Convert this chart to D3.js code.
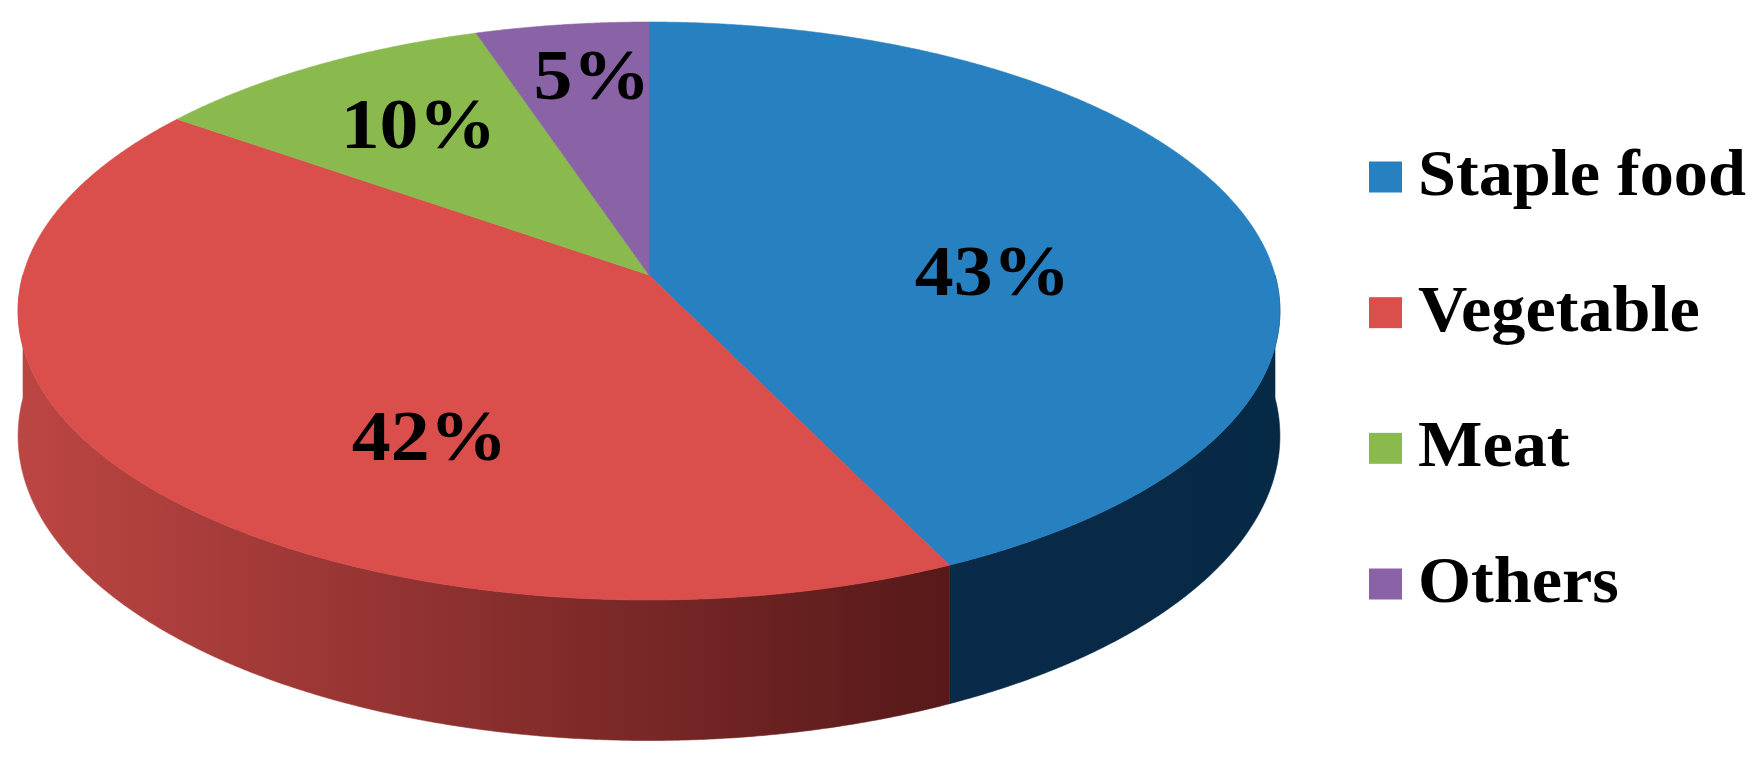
<!DOCTYPE html>
<html><head><meta charset="utf-8">
<script src="https://cdn.jsdelivr.net/npm/d3@7"></script>
<style>html,body{margin:0;padding:0;background:#fff;overflow:hidden}</style>
</head><body><svg id="chart" width="1760" height="761"></svg>
<script>
// ---- data ----
const categories = ["Staple food", "Vegetable", "Meat", "Others"];
const values = [43, 42, 10, 5];
const valueLabels = ["43%", "42%", "10%", "5%"];
const topColors = ["#2780c0", "#da4e4b", "#8aba4e", "#8963a6"];

// ---- layout (3D perspective pie) ----
const cx = 649, cy = 275;   // projected centre of the top face
const A = 284.5, B = 626;   // vertical / horizontal projection scales
const E = 0.1246;           // perspective strength
const H = 123;              // pie thickness
const labelRadius = [0.55, 0.62, 0.695, 0.777];
const labelTurnDeg = [11, -18.5, 1.4, 1.6];

function proj(theta, r, drop) {
  const u = r * Math.sin(theta), v = -r * Math.cos(theta);
  const z = 1 - v * E;
  return [cx + B * u / z, cy + (A * v + (drop || 0)) / z];
}

const svg = d3.select("#chart");
const defs = svg.append("defs");
const g1 = defs.append("linearGradient").attr("id", "redSide")
  .attr("gradientUnits", "userSpaceOnUse").attr("x1", 13).attr("x2", 945).attr("y1", 0).attr("y2", 0);
g1.append("stop").attr("offset", 0).attr("stop-color", "#bd4643");
g1.append("stop").attr("offset", 1).attr("stop-color", "#571919");
const g2 = defs.append("linearGradient").attr("id", "blueSide")
  .attr("gradientUnits", "userSpaceOnUse").attr("x1", 945).attr("x2", 1283).attr("y1", 0).attr("y2", 0);
g2.append("stop").attr("offset", 0).attr("stop-color", "#092b49");
g2.append("stop").attr("offset", 1).attr("stop-color", "#062946");
const sideFills = ["url(#blueSide)", "url(#redSide)", d3.color(topColors[2]).darker(1.5), d3.color(topColors[3]).darker(1.5)];

const pie = d3.pie().sort(null).value(d => d).startAngle(0).endAngle(2 * Math.PI);
const arcs = pie(values);

function arcPoints(a0, a1, r, drop) {
  const n = Math.max(2, Math.ceil((a1 - a0) / 0.005));
  const pts = [];
  for (let i = 0; i <= n; i++) pts.push(proj(a0 + (a1 - a0) * i / n, r, drop));
  return pts;
}
const line = d3.line();

// walls (front half only)
const gWall = svg.append("g");
arcs.forEach((a, i) => {
  const s = Math.max(a.startAngle, Math.PI / 2), e = Math.min(a.endAngle, 3 * Math.PI / 2);
  if (e <= s) return;
  const top = arcPoints(s, e, 1, 0);
  const bot = arcPoints(s, e, 1, H).reverse();
  gWall.append("path").attr("d", line(top.concat(bot)) + "Z")
    .attr("fill", sideFills[i]).attr("stroke", sideFills[i]).attr("stroke-width", 0.6);
});

// top faces
const gTop = svg.append("g");
arcs.forEach((a, i) => {
  const pts = [proj(0, 0, 0)].concat(arcPoints(a.startAngle, a.endAngle, 1, 0));
  gTop.append("path").attr("d", line(pts) + "Z")
    .attr("fill", topColors[i]).attr("stroke", topColors[i]).attr("stroke-width", 0.6);
});

// value labels
const fontFam = "'Liberation Serif','Times New Roman',serif";
arcs.forEach((a, i) => {
  const mid = (a.startAngle + a.endAngle) / 2 + labelTurnDeg[i] * Math.PI / 180;
  const [x, y] = proj(mid, labelRadius[i], 0);
  svg.append("text")
    .attr("transform", `translate(${x},${y + 24.5}) scale(1.08,1)`)
    .attr("text-anchor", "middle")
    .attr("font-family", fontFam).attr("font-weight", "bold").attr("font-size", 72)
    .attr("fill", "#000").text(valueLabels[i]);
});

// legend
const ly = d3.scalePoint().domain(categories).range([177, 584]);
const leg = svg.append("g");
categories.forEach((c, i) => {
  leg.append("rect").attr("x", 1369).attr("y", ly(c) - 15.5).attr("width", 33).attr("height", 31)
    .attr("fill", topColors[i]);
  leg.append("text")
    .attr("transform", `translate(1418,${ly(c) + 18}) scale(1.05,1)`)
    .attr("font-family", fontFam).attr("font-weight", "bold").attr("font-size", 65)
    .attr("fill", "#000").text(c);
});
</script></body></html>
